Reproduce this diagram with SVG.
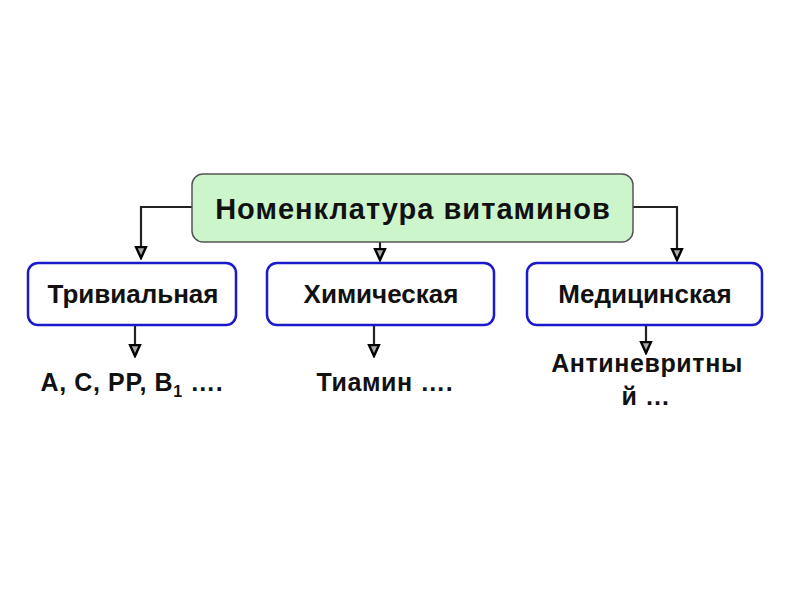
<svg xmlns="http://www.w3.org/2000/svg" width="800" height="600" viewBox="0 0 800 600">
<style>
text{font-family:"Liberation Sans",Arial,sans-serif;font-weight:bold;fill:#111;text-anchor:middle}
.main{font-size:29px;letter-spacing:1px}
.sub{font-size:26px}
.lbl{font-size:25px;letter-spacing:0.6px}
.cat{fill:#fff;stroke:#1a1acc;stroke-width:2.5}
.conn{fill:none;stroke:#222;stroke-width:2.2}
</style>
<defs>
<marker id="arr" markerUnits="userSpaceOnUse" markerWidth="14" markerHeight="14" refX="12" refY="6" orient="auto" viewBox="0 0 14 12">
<path d="M1,1 L12,6 L1,11 z" fill="#aaa" stroke="#000" stroke-width="2.4"/>
</marker>
</defs>
<rect width="800" height="600" fill="#fff"/>
<g id="connectors">
<path class="conn" d="M192,207 H141 V258" marker-end="url(#arr)"/>
<path class="conn" d="M380,242 V260" marker-end="url(#arr)"/>
<path class="conn" d="M633,207 H677 V260" marker-end="url(#arr)"/>
<path class="conn" d="M135,325 V356" marker-end="url(#arr)"/>
<path class="conn" d="M374,325 V356" marker-end="url(#arr)"/>
<path class="conn" d="M646,325 V353" marker-end="url(#arr)"/>
</g>
<g id="root">
<rect x="192" y="174" width="441" height="68" rx="11" fill="#ccf5cc" stroke="#555" stroke-width="1.5"/>
<text class="main" x="413" y="219">Номенклатура витаминов</text>
</g>
<g id="trivial">
<rect class="cat" x="28" y="263" width="208" height="62" rx="10"/>
<text class="sub" x="133" y="303">Тривиальная</text>
</g>
<g id="chemical">
<rect class="cat" x="267" y="263" width="227" height="62" rx="10"/>
<text class="sub" x="381" y="303">Химическая</text>
</g>
<g id="medical">
<rect class="cat" x="527" y="263" width="235" height="62" rx="10"/>
<text class="sub" x="645" y="303">Медицинская</text>
</g>
<g id="labels">
<text class="lbl" x="132" y="391">A, C, PP, B<tspan font-size="16" dy="6">1</tspan><tspan dy="-6"> ….</tspan></text>
<text class="lbl" x="385" y="391">Тиамин ….</text>
<text class="lbl" x="647" y="372">Антиневритны</text>
<text class="lbl" x="646" y="405">й …</text>
</g>
</svg>
